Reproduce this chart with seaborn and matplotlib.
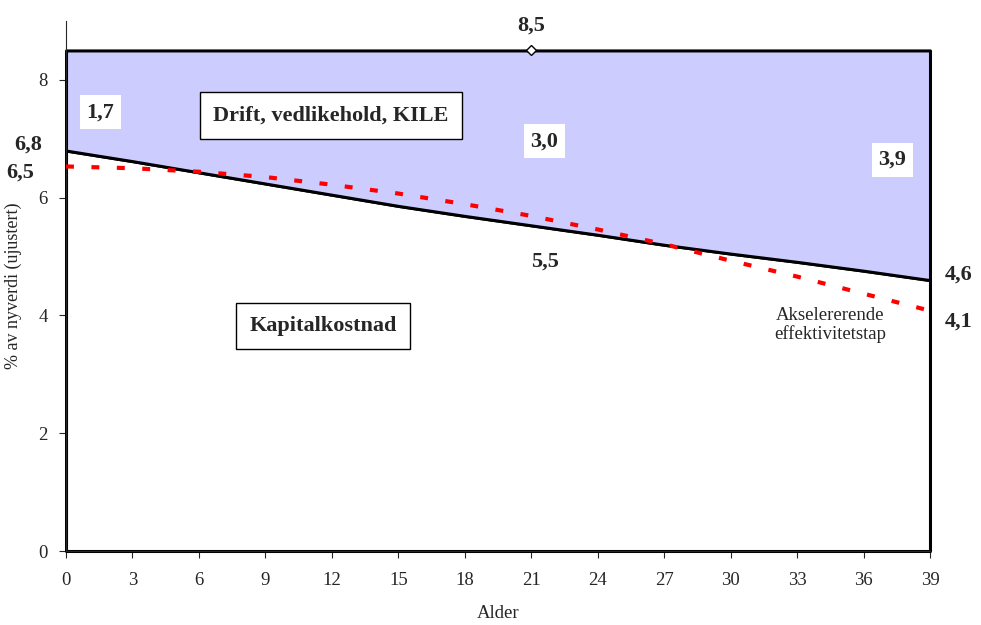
import numpy as np
import matplotlib
matplotlib.use("Agg")
import matplotlib.pyplot as plt
import seaborn as sns
import pandas as pd

# Alder (år) og kostnader i % av nyverdi (ujustert)
alder = [0, 3, 6, 9, 12, 15, 18, 21, 24, 27, 30, 33, 36, 39]
kapitalkostnad = [6.8, 6.62, 6.43, 6.24, 6.05, 5.86, 5.69, 5.53, 5.37, 5.20, 5.05, 4.91, 4.76, 4.60]
totalkostnad = [8.5] * len(alder)
akselererende = [6.53, 6.50, 6.44, 6.35, 6.22, 6.07, 5.89, 5.69, 5.46, 5.21, 4.93, 4.66, 4.37, 4.08]
y_ticks = [0, 2, 4, 6, 8]

df = pd.DataFrame({
    "alder": alder,
    "kapital": kapitalkostnad,
    "total": totalkostnad,
    "aksel": akselererende,
})


def komma(v):
    return f"{v:.1f}".replace(".", ",")


sns.set_style("ticks")
plt.rcParams["font.family"] = ["Liberation Serif", "DejaVu Serif"]

fig = plt.figure(figsize=(9.81, 6.25), dpi=100)
ax = fig.add_axes([0.0673, 0.1184, 0.8807, 0.848])

# Arealer (Excel-stil med svart kant)
ax.fill_between(df["alder"], 0, df["kapital"], facecolor="white",
                edgecolor="black", linewidth=2.2, clip_on=False, zorder=2)
ax.fill_between(df["alder"], df["kapital"], df["total"], facecolor="#CCCCFF",
                edgecolor="black", linewidth=2.2, clip_on=False, zorder=2)

# Akselererende effektivitetstap
sns.lineplot(data=df, x="alder", y="aksel", ax=ax, color="#FF0000",
             linewidth=3.0, zorder=4)
ax.lines[-1].set_dashes((1.9, 4.2))
ax.lines[-1].set_dash_capstyle("butt")

# Markør på toppen
midt = len(alder) // 2
ax.plot(df["alder"][midt], df["total"][midt], marker="D", markersize=5.5,
        markerfacecolor="white", markeredgecolor="black", markeredgewidth=1,
        zorder=5, clip_on=False)

ax.set_xlim(alder[0], alder[-1])
ax.set_ylim(0, 9)
ax.set_xticks(alder)
ax.set_yticks(y_ticks)
ax.tick_params(axis="both", labelsize=13.5, length=5, width=0.8, direction="out")
ax.tick_params(axis="x", pad=10)
ax.tick_params(axis="y", pad=8)
for side in ["top", "right"]:
    ax.spines[side].set_visible(False)
ax.spines["left"].set_linewidth(0.8)
ax.spines["bottom"].set_linewidth(0.8)

ax.set_xlabel("Alder", fontsize=13.5, labelpad=12)
ax.set_ylabel("% av nyverdi (ujustert)", fontsize=13, labelpad=12)

bold = dict(fontsize=16, fontweight="bold", ha="center", va="center")
hvit = dict(facecolor="white", edgecolor="none", pad=5)

# Verdier langs kantene
ax.text(alder[midt], 8.92, komma(totalkostnad[midt]), **bold)
ax.text(-1.7, kapitalkostnad[0] + 0.1, komma(kapitalkostnad[0]), **bold)
ax.text(-2.05, akselererende[0] - 0.1, komma(akselererende[0]), **bold)
ax.text(40.3, kapitalkostnad[-1] + 0.09, komma(kapitalkostnad[-1]), **bold)
ax.text(40.3, akselererende[-1] - 0.18, komma(akselererende[-1]), **bold)
ax.text(21.6, 4.91, komma(5.5), **bold)

# Differanser i Drift-arealet
ax.text(1.55, 7.45, komma(totalkostnad[0] - kapitalkostnad[0]), bbox=hvit, **bold)
ax.text(21.6, 6.96, komma(8.5 - 5.5), bbox=hvit, **bold)
ax.text(37.3, 6.64, komma(totalkostnad[-1] - kapitalkostnad[-1]), bbox=hvit, **bold)

boks = dict(boxstyle="square,pad=0.6", facecolor="white", edgecolor="black", linewidth=1)
ax.text(11.95, 7.40, "Drift, vedlikehold, KILE", zorder=6, bbox=boks, **bold)
ax.text(11.6, 3.82, "Kapitalkostnad", zorder=6, bbox=boks, **bold)
ax.text(34.5, 3.84, "Akselererende\neffektivitetstap", fontsize=13.5,
        ha="center", va="center", linespacing=1.1)

fig.savefig("out.png", dpi=100)
